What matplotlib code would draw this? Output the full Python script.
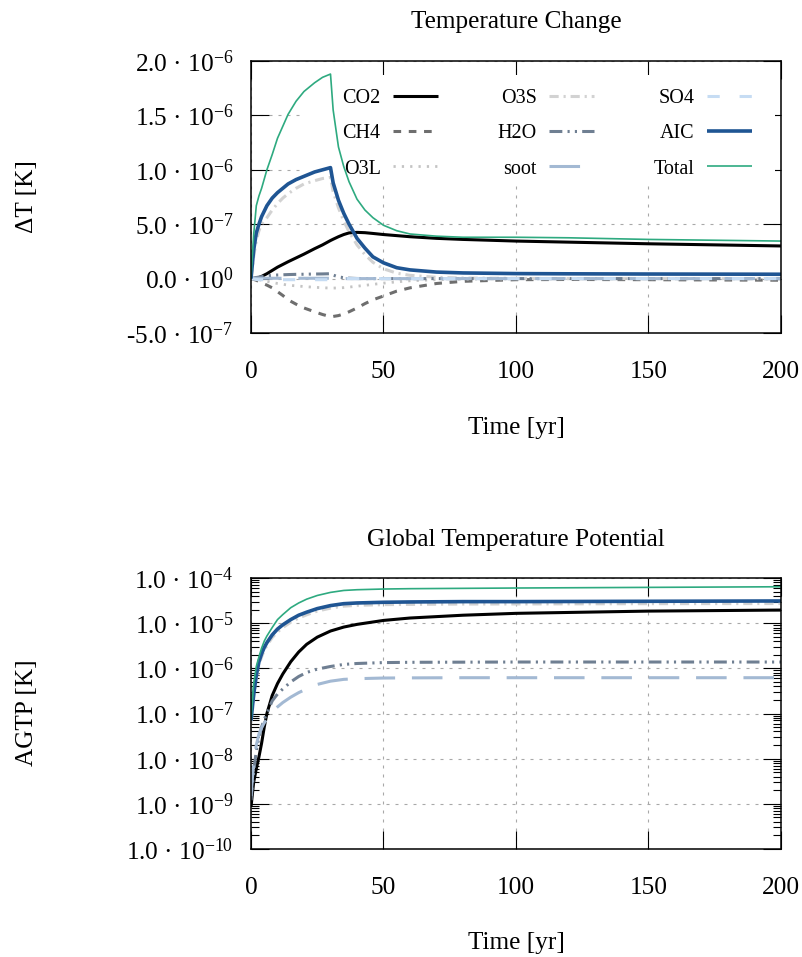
import numpy as np
import matplotlib
matplotlib.use('Agg')
import matplotlib.pyplot as plt
from matplotlib.ticker import LogLocator, NullFormatter, FixedLocator
from matplotlib.patches import Rectangle

plt.rcParams['font.family'] = ['Liberation Serif', 'DejaVu Serif']
plt.rcParams['mathtext.fontset'] = 'custom'
plt.rcParams['mathtext.rm'] = 'Liberation Serif'
plt.rcParams['mathtext.it'] = 'Liberation Serif:italic'
plt.rcParams['mathtext.bf'] = 'Liberation Serif:bold'

# ---------------- data: temperature change (units of 1e-7 K) ----------------
t_top = [0, 1, 2, 3, 4, 6, 8, 10, 12, 14, 17, 20, 24, 27, 30, 31, 33, 35, 37, 40,
         43, 46, 50, 55, 60, 70, 80, 100, 120, 150, 200]
dT_CO2 = [0, 0.01, 0.04, 0.1, 0.2, 0.45, 0.75, 1.05, 1.3, 1.55, 1.9, 2.25, 2.75, 3.1, 3.5,
          3.62, 3.85, 4.05, 4.2, 4.25, 4.22, 4.15, 4.05, 3.95, 3.85, 3.7, 3.6, 3.45, 3.35, 3.2, 3.0]
dT_CH4 = [0, -0.07, -0.15, -0.27, -0.4, -0.6, -0.85, -1.2, -1.55, -1.95, -2.35, -2.7, -3.05, -3.3, -3.5,
          -3.48, -3.4, -3.25, -3.05, -2.7, -2.3, -1.95, -1.6, -1.15, -0.85, -0.45, -0.25, -0.1, -0.08, -0.1, -0.15]
dT_O3L = [0, -0.02, -0.05, -0.1, -0.15, -0.25, -0.35, -0.45, -0.52, -0.6, -0.67, -0.73, -0.8, -0.84, -0.87,
          -0.87, -0.86, -0.83, -0.78, -0.7, -0.62, -0.53, -0.42, -0.3, -0.2, -0.1, -0.05, -0.02, 0, 0, 0]
dT_O3S = [0, 2.0, 3.5, 4.4, 5.0, 5.6, 6.3, 6.9, 7.4, 7.8, 8.3, 8.7, 9.0, 9.2, 9.3,
          8.0, 6.5, 5.3, 4.3, 3.1, 2.2, 1.5, 0.9, 0.5, 0.3, 0.12, 0.05, 0.02, 0, 0, 0]
dT_H2O = [0, 0.05, 0.1, 0.14, 0.18, 0.25, 0.3, 0.33, 0.35, 0.37, 0.39, 0.4, 0.42, 0.43, 0.45,
          0.32, 0.16, 0.08, 0.04, 0.01, 0, 0, 0, 0, 0, 0, 0, 0, 0, 0, 0]
dT_soot = [0, 0.02, 0.03, 0.03, 0.03, 0.03, 0.03, 0.03, 0.03, 0.03, 0.03, 0.03, 0.03, 0.03, 0.03,
           0, 0, 0, 0, 0, 0, 0, 0, 0, 0, 0, 0, 0, 0, 0, 0]
dT_SO4 = [0, -0.05, -0.08, -0.1, -0.1, -0.1, -0.1, -0.1, -0.1, -0.1, -0.1, -0.1, -0.1, -0.1, -0.1,
          0, 0, 0, 0, 0, 0, 0, 0, 0, 0, 0, 0, 0, 0, 0, 0]
dT_AIC = [0, 2.6, 4.2, 5.0, 5.7, 6.7, 7.4, 7.9, 8.3, 8.7, 9.1, 9.4, 9.8, 10.0, 10.2,
          8.8, 7.2, 6.0, 5.0, 3.7, 2.8, 2.0, 1.45, 1.0, 0.8, 0.6, 0.52, 0.46, 0.44, 0.42, 0.4]
dT_Total = [0, 4.0, 6.7, 7.6, 8.3, 10.0, 11.4, 12.9, 14.0, 15.1, 16.3, 17.2, 18.0, 18.5, 18.8,
            15.5, 12.1, 10.3, 8.9, 7.3, 6.3, 5.6, 4.9, 4.4, 4.1, 3.9, 3.8, 3.8, 3.75, 3.6, 3.45]
dT_unit = 1e-7

# ---------------- data: AGTP (K) ----------------
t_bot = [0, 1, 2, 3, 4, 5, 6, 8, 10, 12, 15, 18, 21, 25, 30, 35, 40, 50, 60, 80, 100, 150, 200]
agtp_CO2 = [8.5e-10, 3e-9, 6e-9, 1.1e-8, 2.2e-8, 5e-8, 1.0e-7, 2.5e-7, 4.6e-7, 7.5e-7, 1.4e-6, 2.3e-6,
            3.4e-6, 4.9e-6, 6.7e-6, 8.2e-6, 9.4e-6, 1.15e-5, 1.3e-5, 1.5e-5, 1.65e-5, 1.85e-5, 1.95e-5]
agtp_O3S = [6e-8, 2.2e-7, 6e-7, 1.2e-6, 1.8e-6, 2.5e-6, 3.2e-6, 4.8e-6, 6.4e-6, 8e-6, 1.05e-5, 1.3e-5,
            1.53e-5, 1.85e-5, 2.15e-5, 2.38e-5, 2.48e-5, 2.57e-5, 2.6e-5, 2.65e-5, 2.66e-5, 2.7e-5, 2.72e-5]
agtp_H2O = [1.2e-9, 5e-9, 1.5e-8, 3e-8, 5e-8, 7.5e-8, 1.0e-7, 1.9e-7, 2.7e-7, 3.5e-7, 5e-7, 6.6e-7,
            8.1e-7, 9.6e-7, 1.1e-6, 1.22e-6, 1.28e-6, 1.34e-6, 1.36e-6, 1.37e-6, 1.38e-6, 1.38e-6, 1.38e-6]
agtp_soot = [1.5e-9, 8e-9, 2e-8, 3.5e-8, 4.8e-8, 6.2e-8, 7.5e-8, 1.1e-7, 1.4e-7, 1.75e-7, 2.3e-7, 2.9e-7,
             3.5e-7, 4.4e-7, 5.2e-7, 5.7e-7, 5.9e-7, 6.1e-7, 6.15e-7, 6.2e-7, 6.2e-7, 6.2e-7, 6.2e-7]
agtp_AIC = [7e-8, 2.6e-7, 7e-7, 1.4e-6, 2.1e-6, 2.9e-6, 3.7e-6, 5.5e-6, 7.4e-6, 9.2e-6, 1.2e-5, 1.5e-5,
            1.75e-5, 2.1e-5, 2.45e-5, 2.7e-5, 2.8e-5, 2.9e-5, 2.95e-5, 3.0e-5, 3.0e-5, 3.05e-5, 3.1e-5]
agtp_Total = [7e-8, 4.5e-7, 1.1e-6, 1.8e-6, 2.8e-6, 4.0e-6, 5.2e-6, 8.0e-6, 1.2e-5, 1.55e-5, 2.2e-5, 2.8e-5,
              3.4e-5, 4.1e-5, 4.8e-5, 5.3e-5, 5.5e-5, 5.7e-5, 5.8e-5, 5.9e-5, 6.0e-5, 6.2e-5, 6.4e-5]

x_ticks = [0, 50, 100, 150, 200]
x_ticklabels = ['0', '50', '100', '150', '200']
top_yticks = [-5e-7, 0, 5e-7, 1e-6, 1.5e-6, 2e-6]
top_yticklabels = ['-5.0 · 10$^{-7}$', '0.0 · 10$^{0}$', '5.0 · 10$^{-7}$',
                   '1.0 · 10$^{-6}$', '1.5 · 10$^{-6}$', '2.0 · 10$^{-6}$']
bot_yticks = [1e-10, 1e-9, 1e-8, 1e-7, 1e-6, 1e-5, 1e-4]
bot_yticklabels = ['1.0 · 10$^{-10}$', '1.0 · 10$^{-9}$', '1.0 · 10$^{-8}$', '1.0 · 10$^{-7}$',
                   '1.0 · 10$^{-6}$', '1.0 · 10$^{-5}$', '1.0 · 10$^{-4}$']

# ---------------- styles ----------------
styles = {
    'CO2':   dict(color='#000000', lw=2.2, ls='-'),
    'CH4':   dict(color='#6e6e6e', lw=2.2, ls=(0, (2.5, 2.5))),
    'O3L':   dict(color='#c4c4c4', lw=2.0, ls=(0, (0.8, 2.2))),
    'O3S':   dict(color='#d2d2d2', lw=2.2, ls=(0, (3.0, 1.6, 0.7, 1.6))),
    'H2O':   dict(color='#6f7f92', lw=2.2, ls=(0, (4.2, 1.7, 0.7, 1.7, 0.7, 1.7))),
    'soot':  dict(color='#a3b9d3', lw=2.2, ls=(0, (10, 5.5))),
    'SO4':   dict(color='#c6dcf3', lw=2.2, ls=(0, (4, 6.5))),
    'AIC':   dict(color='#1f5593', lw=2.6, ls='-'),
    'Total': dict(color='#2eaa80', lw=1.2, ls='-'),
}

FS = 18.2
LFS = 14.5
fig = plt.figure(figsize=(8.03, 9.57), dpi=100)
W, H = 803.0, 957.0
ax1 = fig.add_axes([251 / W, 1 - 333 / H, 530 / W, 272 / H])
ax2 = fig.add_axes([251 / W, 1 - 849 / H, 530 / W, 271 / H])

grid_kw = dict(color='#a8a8a8', lw=0.8, ls=(0, (2.7, 5.4)))

def style_axes(ax):
    for s in ax.spines.values():
        s.set_linewidth(1.1)
        s.set_color('black')
    ax.tick_params(which='major', direction='in', length=13, width=0.8,
                   top=True, right=True, labelsize=FS, colors='black')
    ax.tick_params(which='minor', direction='in', length=6, width=0.8,
                   top=True, right=True)
    ax.tick_params(axis='x', which='major', pad=20)
    ax.tick_params(axis='y', which='major', pad=13)
    ax.set_axisbelow(True)
    ax.grid(True, which='major', **grid_kw)
    ax.set_xlim(0, 200)
    ax.set_xticks(x_ticks)
    ax.set_xticklabels(x_ticklabels)

# ---- top panel ----
style_axes(ax1)
series_top = [('CO2', dT_CO2), ('CH4', dT_CH4), ('O3L', dT_O3L), ('O3S', dT_O3S),
              ('H2O', dT_H2O), ('soot', dT_soot), ('SO4', dT_SO4), ('AIC', dT_AIC),
              ('Total', dT_Total)]
for name, vals in series_top:
    st = styles[name]
    ax1.plot(t_top, np.array(vals) * dT_unit, color=st['color'], lw=st['lw'],
             ls=st['ls'], label=name, zorder=2, solid_capstyle='butt',
             dash_capstyle='butt')
ax1.set_ylim(-5e-7, 2e-6)
ax1.set_yticks(top_yticks)
ax1.set_yticklabels(top_yticklabels)

# opaque key background (covers grid, below curves)
ax1.add_patch(Rectangle((0.096, 0.551), 0.893, 0.398, transform=ax1.transAxes,
                        facecolor='white', edgecolor='none', zorder=1.5))
leg = ax1.legend(ncol=3, markerfirst=False, frameon=False, fontsize=LFS,
                 loc='upper right', bbox_to_anchor=(0.945, 0.897),
                 borderpad=0, handlelength=2.25, handletextpad=0.6,
                 columnspacing=2.95, labelspacing=0.8, borderaxespad=0)
leg.set_zorder(3)

# ---- bottom panel ----
style_axes(ax2)
ax2.set_yscale('log')
series_bot = [('CO2', agtp_CO2), ('O3S', agtp_O3S), ('H2O', agtp_H2O),
              ('soot', agtp_soot), ('AIC', agtp_AIC), ('Total', agtp_Total)]
for name, vals in series_bot:
    st = styles[name]
    ax2.plot(t_bot, vals, color=st['color'], lw=st['lw'], ls=st['ls'], zorder=2,
             solid_capstyle='butt', dash_capstyle='butt')
ax2.set_ylim(1e-10, 1e-4)
ax2.yaxis.set_major_locator(FixedLocator(bot_yticks))
ax2.set_yticklabels(bot_yticklabels)
ax2.yaxis.set_minor_locator(LogLocator(base=10, subs=np.arange(2, 10), numticks=20))
ax2.yaxis.set_minor_formatter(NullFormatter())
ax2.tick_params(axis='y', which='major', pad=13)

# ---- texts ----
fig.text(516 / W, 1 - 22 / H, 'Temperature Change', ha='center', va='center', fontsize=FS)
fig.text(516 / W, 1 - 540 / H, 'Global Temperature Potential', ha='center', va='center', fontsize=FS)
fig.text(516 / W, 1 - 428 / H, 'Time [yr]', ha='center', va='center', fontsize=FS)
fig.text(516 / W, 1 - 943 / H, 'Time [yr]', ha='center', va='center', fontsize=FS)
fig.text(27 / W, 1 - 197 / H, 'ΔT [K]', ha='center', va='center', rotation=90, fontsize=FS)
fig.text(27 / W, 1 - 713 / H, 'AGTP [K]', ha='center', va='center', rotation=90, fontsize=FS)

fig.savefig('out.png', dpi=100)
